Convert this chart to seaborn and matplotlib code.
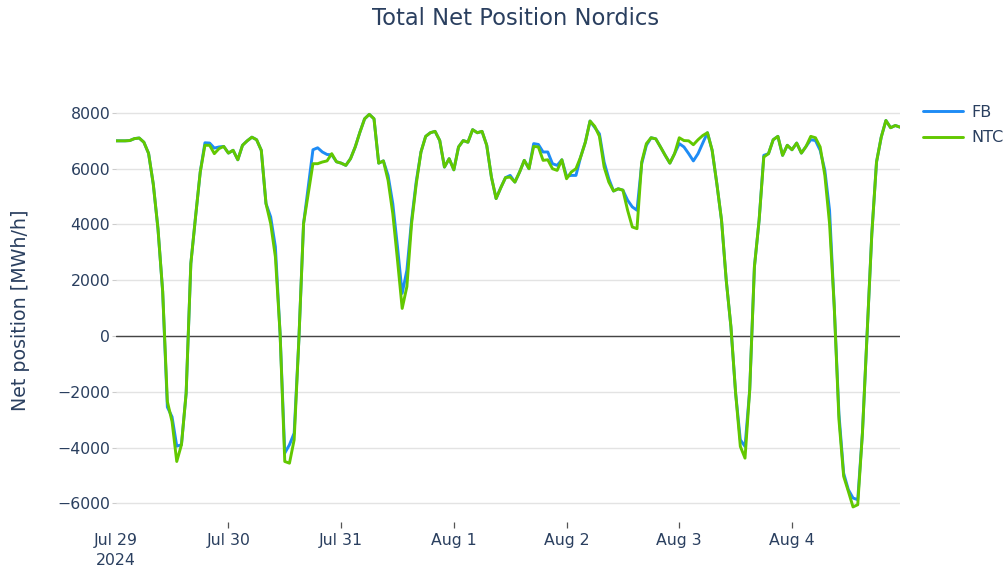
import numpy as np
import pandas as pd
import matplotlib
matplotlib.use("Agg")
import matplotlib.pyplot as plt
import seaborn as sns

# ---------------- data (hourly, Jul 29 00:00 -> Aug 4 23:00, 2024) ----------------
start = "2024-07-29 00:00"
n_hours = 168

fb = [
    7000, 7000, 7000, 7010, 7080, 7100, 6950, 6550, 5450, 3850, 1600, -2550,
    -2900, -3950, -3900, -2050, 2600, 4270, 5880, 6930, 6920, 6740, 6780, 6800,
    6560, 6660, 6320, 6840, 7000, 7130, 7040, 6660, 4750, 4270, 3200, 100,
    -4200, -3900, -3480, -140, 4030, 5350, 6680, 6750, 6600, 6510, 6500, 6250,
    6200, 6120, 6360, 6780, 7310, 7790, 7950, 7790, 6200, 6280, 5760, 4750,
    3200, 1530, 2360, 4150, 5550, 6600, 7160, 7290, 7340, 7010, 6060, 6360,
    5960, 6780, 7010, 6950, 7400, 7290, 7340, 6840, 5700, 4930, 5320, 5680,
    5760, 5520, 5880, 6300, 6000, 6900, 6870, 6600, 6600, 6180, 6120, 6320,
    5730, 5760, 5760, 6420, 6950, 7710, 7480, 7250, 6240, 5640, 5200, 5280,
    5230, 4870, 4630, 4510, 6180, 6840, 7110, 7070, 6780, 6480, 6200, 6540,
    6900, 6780, 6540, 6280, 6540, 6920, 7290, 6660, 5460, 4150, 2000, 330,
    -2050, -3720, -3960, -1930, 2480, 4150, 6480, 6540, 7040, 7160, 6480, 6840,
    6680, 6920, 6560, 6800, 7040, 7010, 6660, 5940, 4510, 1050, -2800, -4920,
    -5510, -5810, -5870, -3480, 100, 3670, 6240, 7130, 7730, 7470, 7550, 7490,
]

ntc = [
    7000, 7000, 7000, 7010, 7080, 7100, 6950, 6550, 5450, 3850, 1600, -2350,
    -3070, -4500, -3900, -2050, 2600, 4270, 5880, 6840, 6840, 6540, 6720, 6800,
    6560, 6660, 6320, 6840, 7000, 7130, 7040, 6660, 4750, 4030, 2840, 100,
    -4500, -4560, -3720, -140, 4030, 5110, 6180, 6180, 6240, 6280, 6540, 6250,
    6200, 6120, 6360, 6780, 7310, 7790, 7950, 7790, 6200, 6280, 5580, 4390,
    2720, 990, 1770, 4030, 5460, 6600, 7160, 7290, 7340, 7010, 6060, 6360,
    5960, 6780, 7010, 6950, 7400, 7290, 7340, 6840, 5700, 4930, 5320, 5680,
    5700, 5520, 5880, 6300, 6000, 6800, 6780, 6300, 6320, 6000, 5940, 6320,
    5640, 5880, 6000, 6420, 6950, 7710, 7520, 7160, 6060, 5520, 5200, 5280,
    5230, 4510, 3910, 3850, 6240, 6900, 7110, 7070, 6780, 6480, 6200, 6540,
    7110, 7010, 7000, 6860, 7040, 7190, 7290, 6660, 5460, 4150, 2000, 330,
    -2050, -3960, -4380, -1930, 2480, 4150, 6420, 6540, 7040, 7160, 6480, 6840,
    6680, 6920, 6560, 6800, 7160, 7110, 6780, 5760, 4030, 1050, -3000, -5030,
    -5570, -6130, -6050, -3480, 100, 3670, 6240, 7130, 7730, 7470, 7550, 7490,
]

series_names = ["FB", "NTC"]
yticks = [-6000, -4000, -2000, 0, 2000, 4000, 6000, 8000]
xtick_dates = ["2024-07-29", "2024-07-30", "2024-07-31", "2024-08-01",
               "2024-08-02", "2024-08-03", "2024-08-04"]
xtick_labels = ["Jul 29\n2024", "Jul 30", "Jul 31", "Aug 1", "Aug 2", "Aug 3", "Aug 4"]

times = pd.date_range(start, periods=n_hours, freq="h")
df = pd.concat([
    pd.DataFrame({"time": times, "value": fb, "series": "FB"}),
    pd.DataFrame({"time": times, "value": ntc, "series": "NTC"}),
], ignore_index=True)

# ---------------- style ----------------
sns.set_theme(style="white")
plt.rcParams["font.family"] = ["DejaVu Sans"]
txt = "#2a3f5f"
blue = "#1E8CF5"
green = "#62C800"

W, H = 1008, 573
fig = plt.figure(figsize=(W / 100, H / 100), dpi=100)
fig.patch.set_facecolor("white")
L, R, T, B = 115.7, 900.0, 99.0, 522.0
ax = fig.add_axes([L / W, 1 - B / H, (R - L) / W, (B - T) / H])
ax.set_facecolor("white")

sns.lineplot(data=df, x="time", y="value", hue="series", hue_order=series_names,
             palette={"FB": blue, "NTC": green}, linewidth=2.1, ax=ax,
             estimator=None, legend=True)

ax.set_xlim(times[0], times[-1])
ax.set_ylim(-6670, 8500)

ax.set_yticks(yticks)
ax.set_yticklabels([f"{v}".replace("-", "\u2212") for v in yticks])
ax.set_xticks(pd.to_datetime(xtick_dates))
ax.set_xticklabels(xtick_labels, linespacing=1.45)

ax.yaxis.grid(True, color="#e3e3e3", linewidth=1.0)
ax.xaxis.grid(False)
ax.set_axisbelow(True)
ax.axhline(0, color="#444444", linewidth=1.0, zorder=1.5)
for s in ax.spines.values():
    s.set_visible(False)

ax.tick_params(axis="x", which="major", bottom=True, length=4.3, width=0.9,
               color="#555555", pad=3.5, labelsize=11.3, labelcolor=txt)
ax.tick_params(axis="y", which="major", left=True, length=3.0, width=0.8,
               color="#cccccc", pad=1.0, labelsize=11.3, labelcolor=txt)
ax.xaxis.get_major_ticks()[0].tick1line.set_visible(False)

ax.set_xlabel("")
ax.set_ylabel("Net position [MWh/h]", fontsize=13.7, color=txt)
ax.yaxis.set_label_coords(-0.109, 0.5)

fig.text(516 / W, 1 - 25 / H, "Total Net Position Nordics", ha="center",
         va="baseline", fontsize=16.3, color=txt)

handles, labels = ax.get_legend_handles_labels()
leg = ax.legend(handles, labels, loc="upper left",
                bbox_to_anchor=(923 / W, 1 - 105 / H), bbox_transform=fig.transFigure,
                frameon=False, fontsize=11.5, handlelength=2.5, handletextpad=0.5,
                labelspacing=0.65, borderpad=0, borderaxespad=0)
for t in leg.get_texts():
    t.set_color(txt)
for h in leg.get_lines():
    h.set_linewidth(2.1)

fig.savefig("out.png", dpi=100, facecolor="white")
